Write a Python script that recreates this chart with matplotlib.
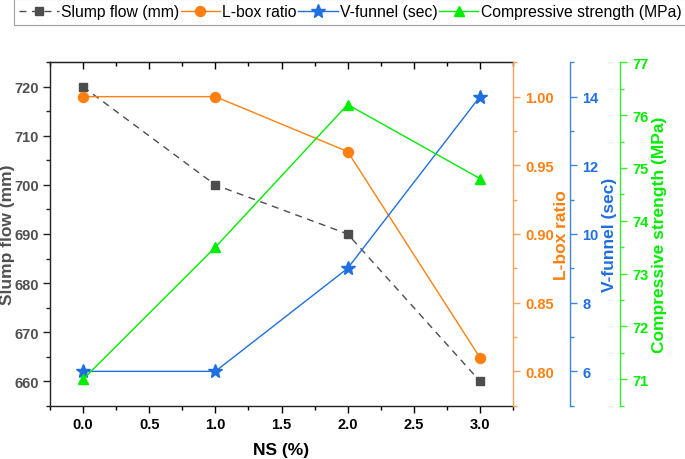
import matplotlib
matplotlib.use("Agg")
import matplotlib.pyplot as plt
from matplotlib.ticker import MultipleLocator, FormatStrFormatter

plt.rcParams['font.family'] = ['Liberation Sans', 'DejaVu Sans']

ns = [0.0, 1.0, 2.0, 3.0]
slump_flow = [720, 700, 690, 660]
l_box = [1.00, 1.00, 0.96, 0.81]
v_funnel = [6, 6, 9, 14]
comp_strength = [71.0, 73.5, 76.2, 74.8]

labels = ["Slump flow (mm)", "L-box ratio", "V-funnel (sec)", "Compressive strength (MPa)"]

c_gray = '#4d4d4d'
c_orange = '#FF8010'
c_orange_sp = '#F7A35C'
c_blue = '#1F6FE0'
c_blue_sp = '#3F86E0'
c_green = '#00EE00'
c_green_sp = '#33EE33'

fig = plt.figure(figsize=(6.85, 4.6), dpi=100)
W, H = 685, 460
L, R, T, B = 50, 513, 63.3, 406.7
ax = fig.add_axes([L / W, 1 - B / H, (R - L) / W, (B - T) / H])

lab_font = dict(fontsize=12.5, fontweight='bold')

# Main axis: slump flow
l1, = ax.plot(ns, slump_flow, color=c_gray, lw=1.0, ls=(0, (5, 4)), marker='s',
              markersize=6.3, markerfacecolor=c_gray, markeredgecolor=c_gray)
ax.set_xlim(-0.25, 3.25)
ax.set_ylim(655, 725)
ax.xaxis.set_major_locator(MultipleLocator(0.5))
ax.xaxis.set_minor_locator(MultipleLocator(0.25))
ax.xaxis.set_major_formatter(FormatStrFormatter('%.1f'))
ax.yaxis.set_major_locator(MultipleLocator(10))
ax.yaxis.set_minor_locator(MultipleLocator(5))
ax.tick_params(axis='both', which='major', direction='out', length=5, width=1, pad=3)
ax.tick_params(axis='both', which='minor', direction='out', length=3, width=1)
ax.tick_params(axis='y', which='both', colors='#222222', labelcolor='#505050')
for t in ax.get_xticklabels() + ax.get_yticklabels():
    t.set_fontsize(10.5)
    t.set_fontweight('bold')
ax.spines['right'].set_visible(False)
for s in ['left', 'bottom', 'top']:
    ax.spines[s].set_linewidth(1.0)
    ax.spines[s].set_color('#222222')
ax.set_xlabel("NS (%)", **lab_font)
ax.set_ylabel("Slump flow (mm)", color='#505050', **lab_font)
ax.yaxis.set_label_coords((15 - L) / (R - L), 0.5)
ax.xaxis.set_label_coords(0.5, (B - 443) / (B - T))

top = ax.secondary_xaxis('top')
top.xaxis.set_major_locator(MultipleLocator(0.5))
top.xaxis.set_minor_locator(MultipleLocator(0.25))
top.tick_params(axis='x', which='major', direction='in', length=5, width=1, labeltop=False)
top.tick_params(axis='x', which='minor', direction='in', length=3, width=1)
top.spines['top'].set_color('#222222')

def make_twin(pos, color_sp, color_txt, ylim, major, minor, fmt, label, lab_x):
    a = ax.twinx()
    a.spines['right'].set_position(('axes', pos))
    for s in ['left', 'top', 'bottom']:
        a.spines[s].set_visible(False)
    a.spines['right'].set_color(color_sp)
    a.spines['right'].set_linewidth(1.0)
    a.set_ylim(*ylim)
    a.yaxis.set_major_locator(MultipleLocator(major))
    a.yaxis.set_minor_locator(MultipleLocator(minor))
    a.yaxis.set_major_formatter(FormatStrFormatter(fmt))
    a.tick_params(axis='y', which='major', direction='out', length=5, width=1,
                  colors=color_sp, labelcolor=color_txt, pad=4)
    a.tick_params(axis='y', which='minor', direction='out', length=3, width=1, colors=color_sp)
    for t in a.get_yticklabels():
        t.set_fontsize(10.5)
        t.set_fontweight('bold')
    a.set_ylabel(label, color=color_txt, **lab_font)
    a.yaxis.set_label_coords((lab_x - L) / (R - L), 0.5)
    return a

ax2 = make_twin(1.0, c_orange_sp, c_orange, (0.775, 1.025), 0.05, 0.025, '%.2f', labels[1], 554)
l2, = ax2.plot(ns, l_box, color=c_orange, lw=1.0, marker='o', markersize=7.2,
               markerfacecolor=c_orange, markeredgecolor=c_orange)

ax3 = make_twin((570 - L) / (R - L), c_blue_sp, c_blue, (5, 15), 2, 1, '%d', labels[2], 602)
l3, = ax3.plot(ns, v_funnel, color=c_blue, lw=1.0, marker='*', markersize=10,
               markerfacecolor=c_blue, markeredgecolor=c_blue)

ax4 = make_twin((620 - L) / (R - L), c_green_sp, c_green, (70.5, 77), 1, 0.5, '%d', labels[3], 652)
l4, = ax4.plot(ns, comp_strength, color=c_green, lw=1.0, marker='^', markersize=7.5,
               markerfacecolor=c_green, markeredgecolor=c_green)

leg = fig.legend([l1, l2, l3, l4], labels, loc='upper left',
                 bbox_to_anchor=(14 / W, 1.0), ncol=4, fontsize=11.3,
                 handlelength=2.5, handletextpad=0.15, columnspacing=0.1,
                 borderpad=0.35, borderaxespad=0.0, frameon=True, fancybox=False)
leg.get_frame().set_edgecolor('#888888')
leg.get_frame().set_linewidth(0.8)

fig.savefig("out.png", dpi=100)
